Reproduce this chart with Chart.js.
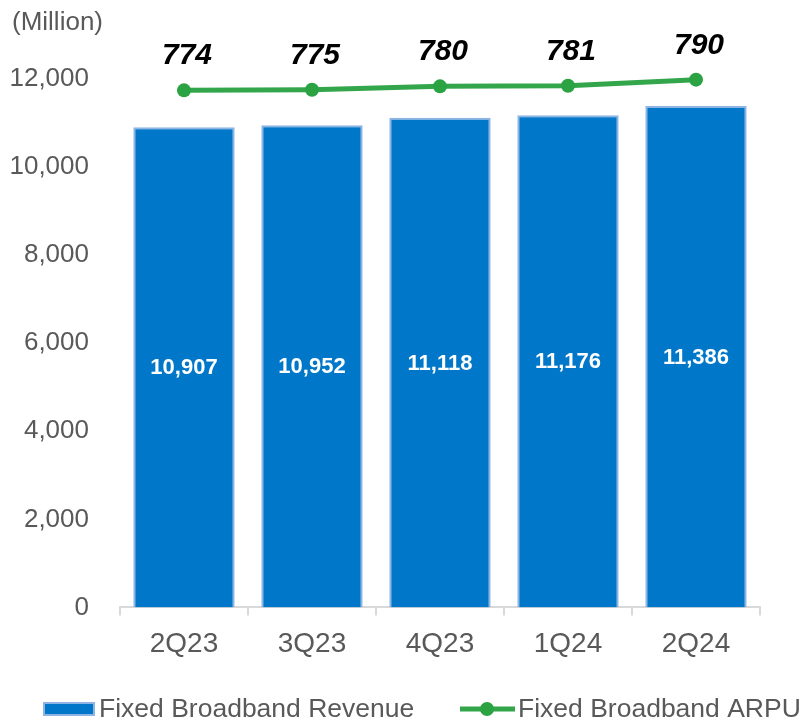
<!DOCTYPE html>
<html>
<head>
<meta charset="utf-8">
<script src="https://cdn.jsdelivr.net/npm/chart.js@4"></script>
<style>
  html, body { margin: 0; padding: 0; background: #fff; }
  #wrap { width: 804px; height: 719px; }
</style>
</head>
<body>
<div id="wrap"><canvas id="fbbChart" width="804" height="719"></canvas></div>
<script>
const quarters = ['2Q23', '3Q23', '4Q23', '1Q24', '2Q24'];
const revenue = [10907, 10952, 11118, 11176, 11386];
const arpu = [774, 775, 780, 781, 790];
const yTicks = [0, 2000, 4000, 6000, 8000, 10000, 12000];

const FONT = "'Liberation Sans', Arial, sans-serif";
const BLUE = '#0077c8';
const BLUE_EDGE = '#8eb4e3';
const GREEN = '#33a64b';
const GREY = '#595959';

// value labels: white inside the bars, bold italic above the ARPU points
const valueLabels = {
  id: 'valueLabels',
  afterDatasetsDraw(chart) {
    const ctx = chart.ctx;
    ctx.save();
    ctx.textAlign = 'center';

    ctx.fillStyle = '#fff';
    ctx.font = 'bold 22px ' + FONT;
    ctx.textBaseline = 'middle';
    chart.getDatasetMeta(0).data.forEach((bar, i) => {
      const mid = (bar.y + bar.base) / 2;
      ctx.fillText(revenue[i].toLocaleString('en-US'), bar.x, mid + 1);
    });

    ctx.fillStyle = '#000';
    ctx.font = 'italic bold 30px ' + FONT;
    ctx.textBaseline = 'alphabetic';
    chart.getDatasetMeta(1).data.forEach((pt, i) => {
      ctx.fillText(String(arpu[i]), pt.x + 3, pt.y - 26);
    });
    ctx.restore();
  }
};

// unit caption + bottom legend
const extras = {
  id: 'extras',
  afterDraw(chart) {
    const ctx = chart.ctx;
    ctx.save();
    ctx.fillStyle = GREY;
    ctx.font = '26px ' + FONT;
    ctx.textAlign = 'left';
    ctx.textBaseline = 'middle';
    ctx.fillText('(Million)', 12, 23);

    const ly = 709;
    // bar swatch
    ctx.fillStyle = BLUE;
    ctx.fillRect(44, 703, 50, 12);
    ctx.strokeStyle = BLUE_EDGE;
    ctx.lineWidth = 2;
    ctx.strokeRect(44, 703, 50, 12);
    ctx.fillStyle = GREY;
    ctx.font = '26.5px ' + FONT;
    ctx.fillText('Fixed Broadband Revenue', 99, ly + 1);

    // line swatch
    ctx.strokeStyle = GREEN;
    ctx.lineWidth = 5;
    ctx.beginPath();
    ctx.moveTo(460, ly);
    ctx.lineTo(515, ly);
    ctx.stroke();
    ctx.fillStyle = '#2ba342';
    ctx.beginPath();
    ctx.arc(487, ly, 7, 0, Math.PI * 2);
    ctx.fill();
    ctx.fillStyle = GREY;
    ctx.fillText('Fixed Broadband ARPU', 518, ly + 1);
    ctx.restore();
  }
};

new Chart(document.getElementById('fbbChart'), {
  data: {
    labels: quarters,
    datasets: [
      {
        type: 'bar',
        label: 'Fixed Broadband Revenue',
        data: revenue,
        backgroundColor: BLUE,
        borderColor: BLUE_EDGE,
        borderWidth: { top: 2, left: 2, right: 2, bottom: 0 },
        borderSkipped: 'bottom',
        categoryPercentage: 0.8,
        barPercentage: 0.99,
        yAxisID: 'y',
        order: 2
      },
      {
        type: 'line',
        label: 'Fixed Broadband ARPU',
        data: arpu,
        borderColor: GREEN,
        backgroundColor: '#2ba342',
        borderWidth: 5,
        pointRadius: 7,
        pointHoverRadius: 7,
        pointBackgroundColor: '#2ba342',
        pointBorderWidth: 0,
        tension: 0,
        clip: false,
        yAxisID: 'y1',
        order: 1
      }
    ]
  },
  options: {
    responsive: false,
    animation: false,
    layout: { padding: { top: 79, right: 44, bottom: 46, left: 0 } },
    plugins: {
      legend: { display: false },
      tooltip: { enabled: false }
    },
    scales: {
      x: {
        offset: true,
        grid: {
          offset: true,
          drawOnChartArea: false,
          drawTicks: true,
          tickLength: 8,
          color: '#d9d9d9',
          lineWidth: 2
        },
        border: { display: true, color: '#d9d9d9', width: 2 },
        ticks: {
          color: GREY,
          font: { family: FONT, size: 28 },
          padding: 12
        }
      },
      y: {
        min: 0,
        max: 12000,
        afterBuildTicks(axis) {
          axis.ticks = yTicks.map(v => ({ value: v }));
        },
        afterFit(axis) { axis.width = 120; },
        grid: { display: false },
        border: { display: false },
        ticks: {
          color: GREY,
          font: { family: FONT, size: 26 },
          padding: 23,
          callback: v => v.toLocaleString('en-US')
        }
      },
      y1: {
        display: false,
        min: 0,
        max: 791,
        position: 'right'
      }
    }
  },
  plugins: [valueLabels, extras]
});
</script>
</body>
</html>
